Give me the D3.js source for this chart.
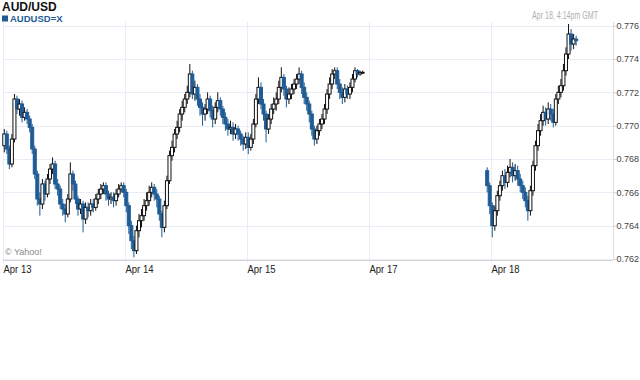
<!DOCTYPE html>
<html>
<head>
<meta charset="utf-8">
<script src="https://cdn.jsdelivr.net/npm/d3@7"></script>
<style>
  html, body { margin: 0; padding: 0; background: #fff; }
  svg { display: block; font-family: "Liberation Sans", Arial, sans-serif; }
</style>
</head>
<body>
<svg id="chart" width="640" height="380"></svg>
<script>
// ---- data ----
const title = "AUD/USD";
const seriesName = "AUDUSD=X";
const stamp = "Apr 18, 4:14pm GMT";
const dayLabels = ["Apr 13", "Apr 14", "Apr 15", "Apr 17", "Apr 18"];
const yTickValues = [0.762, 0.764, 0.766, 0.768, 0.770, 0.772, 0.774, 0.776];
const slotsPerDay = 48;          // 30-minute bars
const totalSlots = 240;

// segment 1: Apr 13 - Apr 15
const seg1Start = 0;
const seg1Open = 0.7688;
const closes1 = [
  0.7695, 0.7686, 0.7677, 0.7692, 0.7716, 0.7710, 0.7713, 0.7705, 0.7708, 0.7704, 0.7699, 0.7686,
  0.7671, 0.7656, 0.7653, 0.7665, 0.7659, 0.7668, 0.7674, 0.7677, 0.7665, 0.7662, 0.7653, 0.7650,
  0.7647, 0.7656, 0.7671, 0.7665, 0.7656, 0.7650, 0.7653, 0.7644, 0.7651, 0.7649, 0.7653, 0.7651,
  0.7656, 0.7659, 0.7662, 0.7664, 0.7659, 0.7656, 0.7657, 0.7655, 0.7659, 0.7662, 0.7664, 0.7660,
  0.7652, 0.7640, 0.7631, 0.7625, 0.7637, 0.7643, 0.7646, 0.7652, 0.7655, 0.7660, 0.7663, 0.7659,
  0.7656, 0.7647, 0.7639, 0.7652, 0.7667, 0.7682, 0.7687, 0.7695, 0.7699, 0.7707, 0.7711, 0.7716,
  0.7720, 0.7731, 0.7719, 0.7723, 0.7716, 0.7711, 0.7707, 0.7710, 0.7716, 0.7709, 0.7704, 0.7711,
  0.7715, 0.7710, 0.7705, 0.7701, 0.7698, 0.7699, 0.7695, 0.7698, 0.7695, 0.7692, 0.7689, 0.7693,
  0.7687, 0.7692, 0.7701, 0.7716, 0.7723, 0.7713, 0.7707, 0.7698, 0.7704, 0.7710, 0.7713, 0.7716,
  0.7723, 0.7729, 0.7722, 0.7716, 0.7719, 0.7722, 0.7725, 0.7728, 0.7731, 0.7723, 0.7717, 0.7713,
  0.7707, 0.7698, 0.7692, 0.7697, 0.7701, 0.7704, 0.7710, 0.7719, 0.7725, 0.7731, 0.7733, 0.7725,
  0.7720, 0.7717, 0.7722, 0.7719, 0.7723, 0.7728, 0.7733, 0.7731, 0.7732, 0.7732
];
const highs1 = [
  0.7698, 0.7697, 0.7688, 0.7695, 0.7719, 0.7718, 0.7716, 0.7715, 0.7711, 0.7710, 0.7706, 0.7701,
  0.7688, 0.7673, 0.7660, 0.7668, 0.7667, 0.7671, 0.7677, 0.7681, 0.7679, 0.7668, 0.7664, 0.7656,
  0.7653, 0.7659, 0.7678, 0.7673, 0.7667, 0.7658, 0.7656, 0.7655, 0.7654, 0.7654, 0.7656, 0.7656,
  0.7659, 0.7662, 0.7665, 0.7666, 0.7666, 0.7661, 0.7660, 0.7660, 0.7662, 0.7665, 0.7666, 0.7666,
  0.7662, 0.7654, 0.7643, 0.7634, 0.7640, 0.7647, 0.7650, 0.7656, 0.7660, 0.7664, 0.7666, 0.7665,
  0.7662, 0.7658, 0.7649, 0.7655, 0.7670, 0.7685, 0.7691, 0.7698, 0.7703, 0.7710, 0.7715, 0.7719,
  0.7724, 0.7737, 0.7733, 0.7727, 0.7725, 0.7719, 0.7714, 0.7713, 0.7720, 0.7718, 0.7712, 0.7714,
  0.7720, 0.7717, 0.7712, 0.7708, 0.7704, 0.7703, 0.7702, 0.7701, 0.7700, 0.7697, 0.7694, 0.7696,
  0.7696, 0.7695, 0.7704, 0.7719, 0.7729, 0.7726, 0.7716, 0.7709, 0.7707, 0.7713, 0.7717, 0.7720,
  0.7727, 0.7735, 0.7731, 0.7724, 0.7723, 0.7725, 0.7728, 0.7731, 0.7735, 0.7733, 0.7726, 0.7720,
  0.7715, 0.7709, 0.7700, 0.7700, 0.7704, 0.7707, 0.7713, 0.7722, 0.7729, 0.7734, 0.7735, 0.7735,
  0.7728, 0.7723, 0.7725, 0.7724, 0.7726, 0.7731, 0.7735, 0.7734, 0.7733, 0.7733
];
const lows1 = [
  0.7684, 0.7683, 0.7674, 0.7675, 0.7690, 0.7707, 0.7706, 0.7702, 0.7703, 0.7701, 0.7696, 0.7683,
  0.7668, 0.7652, 0.7646, 0.7650, 0.7655, 0.7657, 0.7665, 0.7671, 0.7662, 0.7658, 0.7650, 0.7646,
  0.7642, 0.7645, 0.7654, 0.7661, 0.7653, 0.7646, 0.7647, 0.7636, 0.7641, 0.7645, 0.7646, 0.7648,
  0.7649, 0.7653, 0.7656, 0.7659, 0.7655, 0.7652, 0.7653, 0.7651, 0.7652, 0.7657, 0.7660, 0.7657,
  0.7648, 0.7635, 0.7626, 0.7621, 0.7623, 0.7633, 0.7639, 0.7643, 0.7649, 0.7652, 0.7657, 0.7655,
  0.7651, 0.7643, 0.7633, 0.7636, 0.7650, 0.7665, 0.7679, 0.7684, 0.7692, 0.7696, 0.7703, 0.7708,
  0.7713, 0.7717, 0.7716, 0.7715, 0.7712, 0.7706, 0.7700, 0.7703, 0.7707, 0.7705, 0.7699, 0.7701,
  0.7708, 0.7706, 0.7701, 0.7697, 0.7694, 0.7695, 0.7691, 0.7692, 0.7691, 0.7688, 0.7685, 0.7686,
  0.7683, 0.7685, 0.7689, 0.7699, 0.7713, 0.7710, 0.7703, 0.7690, 0.7695, 0.7701, 0.7707, 0.7709,
  0.7713, 0.7720, 0.7718, 0.7711, 0.7713, 0.7716, 0.7719, 0.7722, 0.7725, 0.7719, 0.7713, 0.7709,
  0.7702, 0.7694, 0.7688, 0.7689, 0.7694, 0.7698, 0.7701, 0.7707, 0.7716, 0.7722, 0.7728, 0.7722,
  0.7716, 0.7713, 0.7714, 0.7716, 0.7716, 0.7720, 0.7726, 0.7729, 0.7730, 0.7731
];

// segment 2: Apr 17 close / Apr 18
const seg2Start = 190;
const seg2Open = 0.7673;
const closes2 = [
  0.7664, 0.7652, 0.7640, 0.7649, 0.7658, 0.7664, 0.7670, 0.7666, 0.7672, 0.7675, 0.7670, 0.7673,
  0.7668, 0.7664, 0.7660, 0.7655, 0.7649, 0.7661, 0.7676, 0.7688, 0.7697, 0.7703, 0.7708, 0.7704,
  0.7710, 0.7707, 0.7702, 0.7716, 0.7720, 0.7724, 0.7733, 0.7743, 0.7755, 0.7749, 0.7752, 0.7751
];
const highs2 = [
  0.7675, 0.7666, 0.7654, 0.7652, 0.7661, 0.7667, 0.7673, 0.7674, 0.7676, 0.7680, 0.7678, 0.7677,
  0.7676, 0.7671, 0.7667, 0.7663, 0.7658, 0.7664, 0.7679, 0.7691, 0.7701, 0.7707, 0.7712, 0.7711,
  0.7714, 0.7713, 0.7710, 0.7719, 0.7724, 0.7728, 0.7737, 0.7747, 0.7761, 0.7758, 0.7755, 0.7754
];
const lows2 = [
  0.7660, 0.7647, 0.7633, 0.7637, 0.7646, 0.7655, 0.7661, 0.7662, 0.7663, 0.7669, 0.7666, 0.7667,
  0.7664, 0.7660, 0.7656, 0.7651, 0.7643, 0.7646, 0.7658, 0.7673, 0.7685, 0.7694, 0.7700, 0.7700,
  0.7701, 0.7703, 0.7699, 0.7700, 0.7713, 0.7717, 0.7721, 0.7730, 0.7740, 0.7745, 0.7746, 0.7748
];

// ---- build candles ----
function buildSegment(start, firstOpen, closes, highs, lows) {
  return closes.map((c, i) => ({
    slot: start + i,
    open: i === 0 ? firstOpen : closes[i - 1],
    close: c, high: highs[i], low: lows[i]
  }));
}
const candles = buildSegment(seg1Start, seg1Open, closes1, highs1, lows1)
  .concat(buildSegment(seg2Start, seg2Open, closes2, highs2, lows2));

// ---- layout ----
const svg = d3.select("#chart");
const plot = { left: 3, right: 613, top: 22, bottom: 260 };
const x = d3.scaleLinear().domain([0, totalSlots]).range([plot.left, plot.right]);
const y = d3.scaleLinear().domain([0.762, 0.776]).range([259, 25.7]);

const blue = "#1f5b95";
const gridColor = "#e6edf5";
const fontFam = "'Liberation Sans', Arial, sans-serif";

// header
svg.append("text").attr("x", 2).attr("y", 11).attr("font-size", 12).attr("font-weight", "bold")
  .attr("fill", "#111").text(title);
svg.append("rect").attr("x", 2).attr("y", 15.5).attr("width", 6).attr("height", 6).attr("fill", blue);
svg.append("text").attr("x", 10).attr("y", 22).attr("font-size", 9.5).attr("font-weight", "bold")
  .attr("fill", blue).text(seriesName);
svg.append("text").attr("x", 598).attr("y", 19).attr("font-size", 10).attr("text-anchor", "end")
  .attr("fill", "#b0b0b0").attr("textLength", 66).attr("lengthAdjust", "spacingAndGlyphs").text(stamp);

// horizontal grid
svg.append("g").selectAll("line").data(yTickValues).join("line")
  .attr("x1", plot.left).attr("x2", plot.right)
  .attr("y1", d => Math.round(y(d)) + 0.5).attr("y2", d => Math.round(y(d)) + 0.5)
  .attr("stroke", gridColor).attr("stroke-width", 1);

// vertical grid
const dayTicks = dayLabels.map((_, i) => i * slotsPerDay);
svg.append("g").selectAll("line").data(dayTicks).join("line")
  .attr("x1", d => Math.round(x(d)) + 0.5).attr("x2", d => Math.round(x(d)) + 0.5)
  .attr("y1", plot.top).attr("y2", plot.bottom + 3)
  .attr("stroke", gridColor).attr("stroke-width", 1);

// right axis
const yAxis = svg.append("g").attr("transform", `translate(${plot.right + 0.5},0)`)
  .call(d3.axisRight(y).tickValues(yTickValues).tickFormat(d3.format(".3f")).tickSize(3).tickPadding(0));
yAxis.select(".domain").attr("stroke", "#dcdcdc").attr("d", `M0,${plot.top}V${plot.bottom}`);
yAxis.selectAll(".tick line").attr("stroke", "#cfcfcf");
yAxis.selectAll(".tick text").attr("font-size", 9).attr("fill", "#444")
  .attr("font-family", fontFam);

// bottom axis
const xAxis = svg.append("g").attr("transform", `translate(0,${plot.bottom + 0.5})`)
  .call(d3.axisBottom(x).tickValues(dayTicks).tickFormat((d, i) => dayLabels[i]).tickSize(0).tickPadding(5));
xAxis.select(".domain").attr("stroke", "#d4d4d4").attr("d", `M${plot.left},0H${plot.right}`);
xAxis.selectAll(".tick text").attr("font-size", 10).attr("fill", "#222").attr("text-anchor", "start")
  .attr("font-family", fontFam).attr("textLength", 28).attr("lengthAdjust", "spacingAndGlyphs");

// watermark
svg.append("text").attr("x", 5).attr("y", 255).attr("font-size", 9).attr("fill", "#8a8a8a")
  .text("\u00a9 Yahoo!");

// candles
const bodyW = 3;
const cg = svg.append("g");
candles.forEach(d => {
  const up = d.close >= d.open;
  const cx = x(d.slot + 0.5);
  const col = up ? "#111" : blue;
  cg.append("line")
    .attr("x1", cx).attr("x2", cx)
    .attr("y1", y(d.high)).attr("y2", y(d.low))
    .attr("stroke", col).attr("stroke-width", 1);
  const top = y(Math.max(d.open, d.close));
  const bot = y(Math.min(d.open, d.close));
  cg.append("rect")
    .attr("x", cx - bodyW / 2).attr("y", top)
    .attr("width", bodyW).attr("height", Math.max(bot - top, 0.8))
    .attr("fill", up ? "#fff" : blue)
    .attr("stroke", col).attr("stroke-width", 1);
});
</script>
</body>
</html>
